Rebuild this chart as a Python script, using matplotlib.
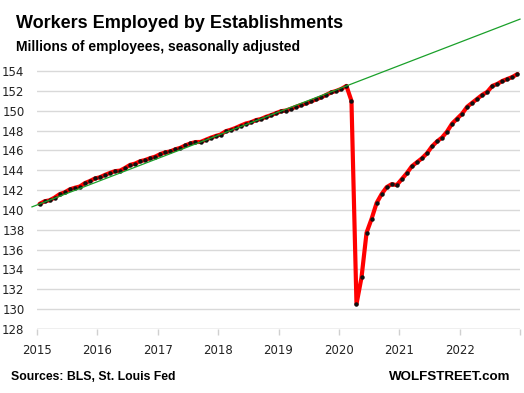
import matplotlib
matplotlib.use("Agg")
import matplotlib.pyplot as plt
import numpy as np

years = ["2015", "2016", "2017", "2018", "2019", "2020", "2021", "2022"]
y_ticks = [128, 130, 132, 134, 136, 138, 140, 142, 144, 146, 148, 150, 152, 154]

# Monthly nonfarm payrolls, millions, Jan 2015 - Dec 2022
v2015 = [140.60, 140.87, 140.97, 141.24, 141.59, 141.77, 142.07, 142.23, 142.36, 142.70, 142.91, 143.17]
v2016 = [143.29, 143.53, 143.73, 143.91, 143.96, 144.23, 144.54, 144.67, 144.91, 145.03, 145.22, 145.37]
v2017 = [145.63, 145.80, 145.90, 146.11, 146.26, 146.51, 146.70, 146.84, 146.85, 147.06, 147.27, 147.45]
v2018 = [147.60, 147.93, 148.08, 148.27, 148.50, 148.71, 148.83, 149.05, 149.16, 149.38, 149.55, 149.75]
v2019 = [149.95, 150.02, 150.20, 150.40, 150.58, 150.75, 150.95, 151.15, 151.35, 151.60, 151.85, 152.00]
v2020 = [152.20, 152.50, 151.00, 130.50, 133.20, 137.70, 139.10, 140.70, 141.60, 142.30, 142.60, 142.50]
v2021 = [143.10, 143.70, 144.40, 144.80, 145.20, 145.70, 146.40, 146.90, 147.30, 147.90, 148.70, 149.20]
v2022 = [149.70, 150.40, 150.80, 151.20, 151.60, 151.90, 152.50, 152.70, 153.00, 153.20, 153.40, 153.70]

values = np.array(v2015 + v2016 + v2017 + v2018 + v2019 + v2020 + v2021 + v2022)
x = np.arange(len(values)) + 0.5

# pre-COVID trend: through Jan 2015 and Feb 2020 points, extended
i0, i1 = 0, 61
slope = (values[i1] - values[i0]) / (x[i1] - x[i0])
tx = np.array([-1.0, 96.0])
ty = values[i0] + slope * (tx - x[i0])

fig = plt.figure(figsize=(5.24, 3.93), dpi=100)
ax = fig.add_axes([37/524, 64/393, (520-37)/524, (381.5-64)/393])

ax.set_ylim(128, 160)
ax.set_xlim(0, 96)
ax.set_yticks(y_ticks)
ax.set_yticklabels([str(t) for t in y_ticks], fontsize=8.5, color="#222222",
                   family="DejaVu Sans")
ax.set_xticks(np.arange(0, 97, 12))
ax.set_xticklabels(years + [""], fontsize=8.5, color="#222222", family="DejaVu Sans")
ax.tick_params(axis="y", length=0, pad=9)
ax.tick_params(axis="x", length=4, color="#d0d0d0", width=1, pad=7, direction="out")
ax.grid(axis="y", color="#d9d9d9", linewidth=1)
ax.set_axisbelow(True)
for s in ["top", "right", "left", "bottom"]:
    ax.spines[s].set_visible(False)
ax.axhline(128, color="#d0d0d0", linewidth=1, zorder=1)

ax.plot(x, values, color="#ff0000", linewidth=3.0, zorder=3, solid_capstyle="round",
        solid_joinstyle="round")
ax.plot(x, values, linestyle="none", marker="o", markersize=2.2, color="#111111",
        zorder=4)
ax.plot(tx, ty, color="#1aa02a", linewidth=0.9, zorder=5, clip_on=False)

fig.text(16/524, 1 - 24/393, "Workers Employed by Establishments", fontsize=13,
         fontweight="bold", family="Liberation Sans", va="center", ha="left")
fig.text(16/524, 1 - 47/393, "Millions of employees, seasonally adjusted", fontsize=10,
         fontweight="bold", family="Liberation Sans", va="center", ha="left")
fig.text(11/524, 1 - 377/393, "Sources: BLS, St. Louis Fed", fontsize=8.8,
         fontweight="bold", family="Liberation Sans", va="center", ha="left")
fig.text(510/524, 1 - 377/393, "WOLFSTREET.com", fontsize=9.6,
         fontweight="bold", family="Liberation Sans", va="center", ha="right")

fig.savefig("out.png", dpi=100)
